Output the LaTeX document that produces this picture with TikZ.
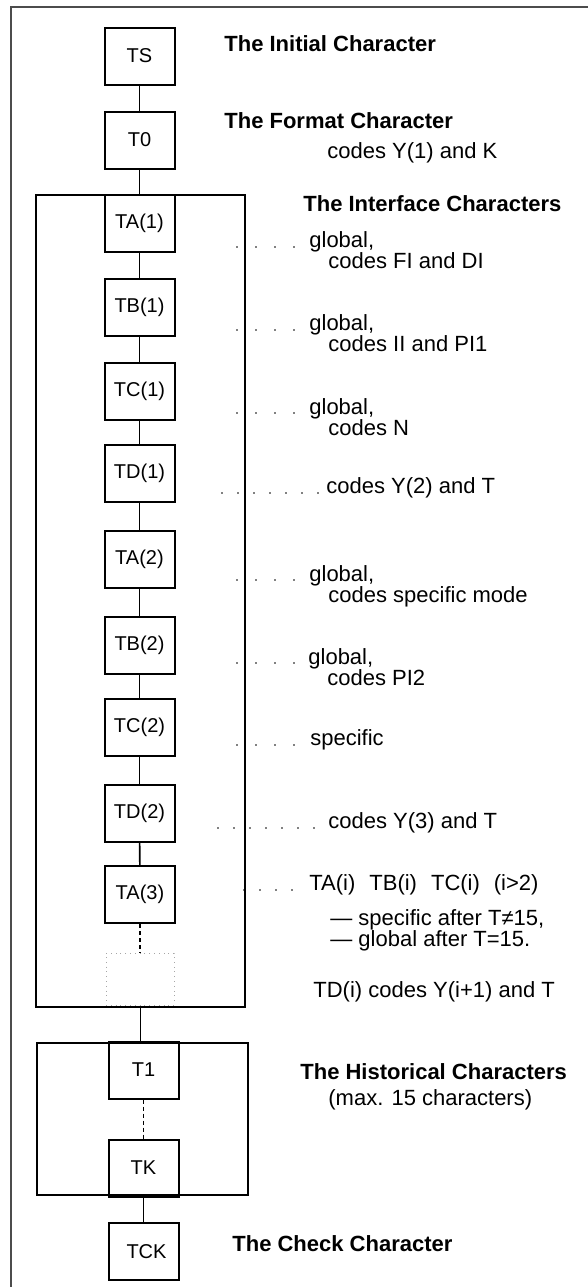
\documentclass[tikz,border=0pt]{standalone}
\usepackage{fontspec}
\setmainfont{Liberation Sans}
\usetikzlibrary{positioning}

\begin{document}
\begin{tikzpicture}[x=0.5pt,y=-0.5pt,
  charbox/.style={draw,line width=1pt,minimum width=35pt,minimum height=28.5pt,inner sep=0pt,font=\fontsize{10}{12}\selectfont},
  ghostbox/.style={draw=black!35,dotted,minimum width=34pt,minimum height=26pt,inner sep=0pt},
  grpbox/.style={draw,line width=1.1pt,inner sep=0pt,outer sep=0pt},
  link/.style={line width=0.8pt},
  dashlink/.style={line width=0.7pt,dash pattern=on 2pt off 1.5pt},
  lead/.style={line width=0.9pt,line cap=round,dash pattern=on 0pt off 9.5pt,shorten >=6pt},
  heading/.style={anchor=base west,inner sep=0pt,font=\fontsize{11}{13}\selectfont\bfseries},
  note/.style={anchor=base west,inner sep=0pt,align=left,font=\fontsize{11}{10.5}\selectfont}]
\useasboundingbox (0,0) rectangle (588,1287);
\draw[black!70,line width=0.6pt] (11,1287) -- (11,7) -- (588,7);

% groups
\node[grpbox,minimum width=104.5pt,minimum height=406pt] (iface) at (140.5,601) {};
\node[grpbox,minimum width=105.5pt,minimum height=76pt] (hist) at (142.5,1119) {};

% characters
\node[charbox] (ts) at (139.5,56) {TS};
\node[charbox] (tzero) at (139.5,140) {T0};
\node[charbox] (ta1) at (139.5,223.5) {TA(1)};
\node[charbox] (tb1) at (139.5,307.5) {TB(1)};
\node[charbox] (tc1) at (139.5,391.5) {TC(1)};
\node[charbox] (td1) at (139.5,473) {TD(1)};
\node[charbox] (ta2) at (139.5,559.5) {TA(2)};
\node[charbox] (tb2) at (139.5,645) {TB(2)};
\node[charbox] (tc2) at (139.5,727) {TC(2)};
\node[charbox] (td2) at (139.5,813.5) {TD(2)};
\node[charbox] (ta3) at (140,894.5) {TA(3)};
\node[ghostbox] (ghost) at (140,979) {};
\node[charbox] (t1) at (143.5,1070) {T1};
\node[charbox] (tk) at (143.5,1168) {TK};
\node[charbox] (tck) at (143.5,1251.5) {\hspace*{3pt}TCK};

\draw[link] (ts) -- (tzero);
\draw[link] (tzero) -- (ta1);
\draw[link] (ta1) -- (tb1);
\draw[link] (tb1) -- (tc1);
\draw[link] (tc1) -- (td1);
\draw[link] (td1) -- (ta2);
\draw[link] (ta2) -- (tb2);
\draw[link] (tb2) -- (tc2);
\draw[link] (tc2) -- (td2);
\draw[link] (td2) -- (ta3);
\draw[dashlink] (ta3) -- (ghost);
\draw[link] (iface.south) -- (iface.south |- hist.north);
\draw[dashlink] (t1) -- (tk);
\draw[link] (tk) -- (tck);

% headings
\node[heading] (hinit) at (224,51) {The Initial Character};
\node[heading] (hfmt) at (224,128) {The Format Character};
\node[note] (nfmt) at (327,158) {codes Y(1) and K};
\node[heading] (hif) at (303,211) {The Interface Characters};
\node[heading] (hhist) at (300,1079) {The Historical Characters};
\node[note] (nhist) at (328,1105) {(max. 15 characters)};
\node[heading] (hchk) at (232,1251) {The Check Character};

% interface notes (base = last line)
\node[note] (lta1) at (309,268) {global,\\\hspace*{9.5pt}codes FI and DI};
\node[note] (ltb1) at (309,351) {global,\\\hspace*{9.5pt}codes II and PI1};
\node[note] (ltc1) at (309,435) {global,\\\hspace*{9.5pt}codes N};
\node[note] (ltd1) at (326,493) {codes Y(2) and T};
\node[note] (lta2) at (309,602) {global,\\\hspace*{9.5pt}codes specific mode};
\node[note] (ltb2) at (308,685) {global,\\\hspace*{9.5pt}codes PI2};
\node[note] (ltc2) at (310,745) {specific};
\node[note] (ltd2) at (328,828) {codes Y(3) and T};
\node[note] (lta3) at (309,890) {TA(i)\hspace{7pt}TB(i)\hspace{7pt}TC(i)\hspace{7pt}(i>2)};
\node[note] (lrule) at (330,946) {— specific after T≠15,\\— global after T=15.};
\node[note] (ltdi) at (313,997) {TD(i) codes Y(i+1) and T};

% leaders
\coordinate (dta1) at (237,247);
\coordinate (dtb1) at (237,330);
\coordinate (dtc1) at (237,413);
\coordinate (dtd1) at (222,493);
\coordinate (dta2) at (237,580);
\coordinate (dtb2) at (237,663);
\coordinate (dtc2) at (237,745);
\coordinate (dtd2) at (218,828);
\coordinate (dta3) at (244,890);
\draw[lead] (dta1) -- (dta1 -| lta1.west);
\draw[lead] (dtb1) -- (dtb1 -| ltb1.west);
\draw[lead] (dtc1) -- (dtc1 -| ltc1.west);
\draw[lead,dash pattern=on 0pt off 8pt,shorten >=3pt] (dtd1) -- (dtd1 -| ltd1.west);
\draw[lead] (dta2) -- (dta2 -| lta2.west);
\draw[lead] (dtb2) -- (dtb2 -| ltb2.west);
\draw[lead] (dtc2) -- (dtc2 -| ltc2.west);
\draw[lead,dash pattern=on 0pt off 8pt,shorten >=3pt] (dtd2) -- (dtd2 -| ltd2.west);
\draw[lead,dash pattern=on 0pt off 8pt,shorten >=1pt] (dta3) -- (dta3 -| lta3.west);
\end{tikzpicture}
\end{document}
